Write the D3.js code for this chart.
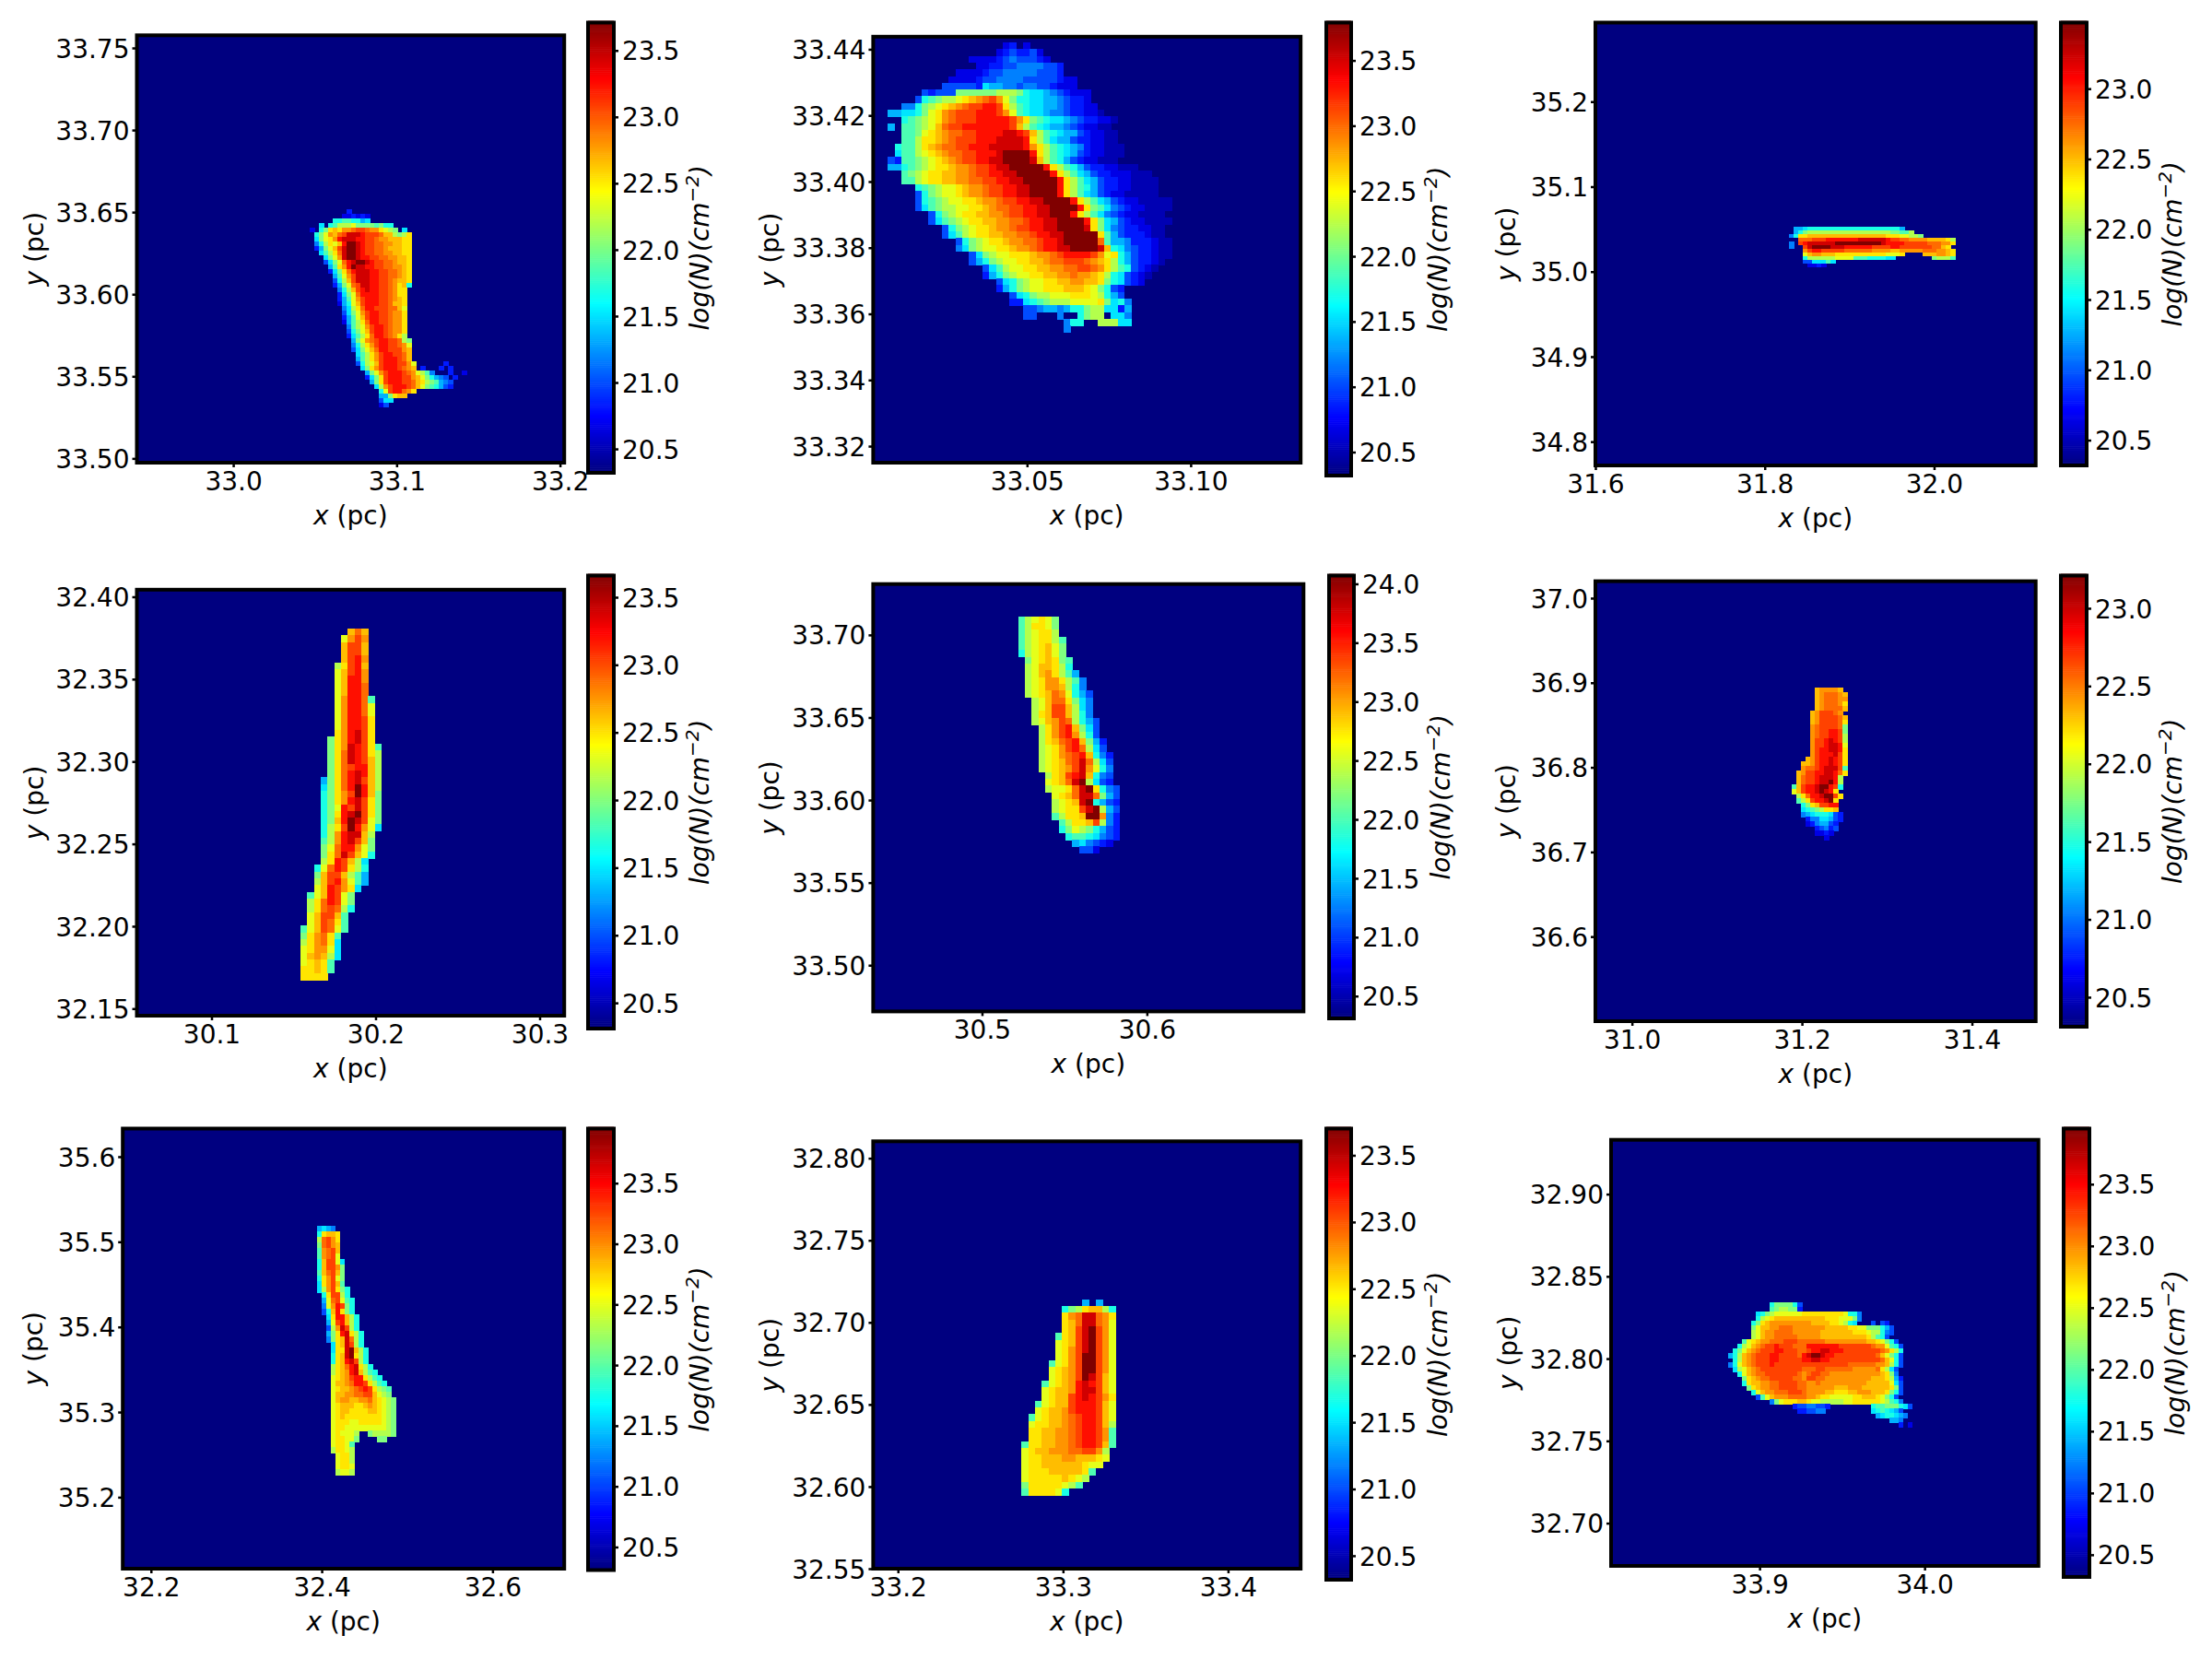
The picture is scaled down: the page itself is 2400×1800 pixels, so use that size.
<!doctype html>
<html>
<head>
<meta charset="UTF-8">
<title>column density maps</title>
<script src="https://d3js.org/d3.v7.min.js"></script>
<style>
    html, body { margin: 0; background: #fff; }
    text { font-family: "DejaVu Sans"; fill: #000; }
    .tick text { font-size: 28px; }
    .tick line { stroke: #000; stroke-width: 2.5px; }
    .domain { display: none; }
</style>
</head>
<body>
<svg id="fig" width="2400" height="1800"></svg>
<script>
// axis limits (one entry per panel, left to right, top to bottom)
var xLimits = [[32.941,33.2026],[33.003,33.1336],[31.6,32.12],[30.0545,30.315],[30.434,30.695],[30.957,31.475],[32.167,32.684],[33.185,33.444],[33.81,34.069]];
var yLimits = [[33.4974,33.7577],[33.315,33.4438],[34.772,35.293],[32.1457,32.4043],[33.472,33.7308],[36.50,37.02],[35.116,35.633],[32.55,32.8103],[32.674,32.933]];
var cLimits = [[20.32,23.71],[20.32,23.79],[20.32,23.47],[20.31,23.66],[20.31,24.07],[20.31,23.21],[20.31,23.95],[20.32,23.70],[20.32,23.95]];

var xTicks = [[33.0,33.1,33.2],[33.05,33.10],[31.6,31.8,32.0],[30.1,30.2,30.3],[30.5,30.6],[31.0,31.2,31.4],[32.2,32.4,32.6],[33.2,33.3,33.4],[33.9,34.0]];
var xDigits = [1,2,1,1,1,1,1,1,1];
var yTicks = [[33.50,33.55,33.60,33.65,33.70,33.75],[33.32,33.34,33.36,33.38,33.40,33.42,33.44],[34.8,34.9,35.0,35.1,35.2],[32.15,32.20,32.25,32.30,32.35,32.40],[33.50,33.55,33.60,33.65,33.70],[36.6,36.7,36.8,36.9,37.0],[35.2,35.3,35.4,35.5,35.6],[32.55,32.60,32.65,32.70,32.75,32.80],[32.70,32.75,32.80,32.85,32.90]];
var yDigits = [2,2,1,2,2,1,1,2,2];
var cTicks = [[20.5,21,21.5,22,22.5,23,23.5],[20.5,21,21.5,22,22.5,23,23.5],[20.5,21,21.5,22,22.5,23],[20.5,21,21.5,22,22.5,23,23.5],[20.5,21,21.5,22,22.5,23,23.5,24],[20.5,21,21.5,22,22.5,23],[20.5,21,21.5,22,22.5,23,23.5],[20.5,21,21.5,22,22.5,23,23.5],[20.5,21,21.5,22,22.5,23,23.5]];

// map cells: upper left corner (x, y) and cell size (dx, dy) in pc
var cellOrigin = [[33.047,33.652],[33.0075,33.4421],[31.829,35.053],[30.1542,32.3807],[30.522,33.7113],[31.188,36.894],[32.3945,35.5187],[33.2748,32.7140],[33.881,32.834]];
var cellSize = [[.00282,.00281],[.002064,.00204],[.00544,.00434],[.00412,.0041],[.0041,.0041],[.00542,.00545],[.0054,.0065],[.00409,.00411],[.00279,.0028]];

// letter -> fraction of the colour range, "." = empty
var letters = "abcdefghijklmnopqrst";
var letterLevels = [.05,.10,.15,.20,.25,.30,.35,.40,.45,.50,.55,.60,.65,.69,.73,.77,.81,.86,.92,1];

// each row: first column, then one letter per cell
var rows1 = [[8,"c"],[7,"bbcbcb"],[5,"hhiihhfg"],[2,"g.hikkkljjjjijhh"],[0,"b.hjmnmoopqqpoomlkj.g"],[1,"hjlonpqsssrqqqpnnkjkm"],
[1,"gjlmorsssrrqqpoonnnmm"],[1,"ehkmlnrttsrqqppoonnmm"],[1,"cfjlnqsttsrqqpponnnmm"],[2,"gikmpsttsrqqppoonnmm"],[3,"gjlosttsrrqqppoonnm"],[3,"dgjlprsttsrqqpponnm"],
[4,"fimortssrrqqppoonm"],[4,"cgjmprsssrrqqpponm"],[5,"filoqsssrrqqpponm"],[5,"dhknqsssrrqqponnm"],[5,"cfjlpqssrrqqpomnh"],[6,"ehknqrsrrqqpomm"],
[6,"cgjlprrrrqqpomm"],[6,"cfiloqrrrqqponm"],[6,"bfhlnqrrrqqpnnm"],[7,"egkmprrqqqppnl"],[7,"dgjloqrrqqpoom"],[7,"cfilnqrrqqpoom"],
[7,"bfikmprrqqpoom"],[8,"eikloqrrqpoom"],[8,"dhjlnqrrqpoom"],[8,"cgikmprrqpomk"],[9,"fjlopqrrqqpkj"],[9,"ehkmoqrrqqpol"],
[9,"dgjlnprrqqqon"],[10,"gikmoqrrqqpn"],[10,"fikmoqrrrqpn"],[10,"dhklnqrrrqqol......c"],[11,"gjmoqrrrqpon.c...c.c"],[12,"fjloqrrrqpolkie...c..b"],
[12,"cgjmqrrrqqonljhfed.c"],[13,"fjmqrrrqqpnmkjifed"],[14,"gkoqrrrqpnljihfdc"],[15,"hlqrrpom"],[15,"ffjmnn"],[15,"dgg"],[15,"bd"]];

var rows2 = [[17,"bc.b"],[16,"bcdccdb"],[12,"bbbbcdedddcb"],[13,"bbccddeeeeddc"],[10,"bbbbcddeeeeedddc"],[9,"bbbbcddeeeedddddcbb"],[8,"dddddcgffeedeeddcbbb"],
[5,"dcdddjjjjjjkkkjhggfedcbbb"],[4,"dhijkklmnopqoljhhggffedccb"],[2,"eehjklmnopqqrrqmkihggffedccbb"],[0,"ffgghjlmopqqqrrrqolihggfeedccbba"],[2,"hijklmopqqqrrrrrqomjihggfedccbba"],
[0,"f.iijklnpqqrrrrrrrqnkihgffedcbbaa"],[2,"iijlmnoppqqrrrrssrqnkihgffdcbbaa"],[2,"iikmmnopqqqrrrssssrmkigffdccbbaa"],[1,"hiikmnoppqqrrrsssssromkihgfecbbaaa"],[1,"giiklmnoppqqrrrsttttrmkihgfdcbbaaa"],
[0,"dciijklmnopqqrrssttttsnkihfdcbbaaa"],[0,"ffhijklmmnoopqqrsstttttrmkihfdccbbaaa"],[2,"ijklmmnnoopqqrrsstttttrmkigfdccbbbaaa"],[2,"iiklmmnnooppqqrrsstttttrmkigfdccbbaaaa"],[4,"hijkllmnoopqqrrssttttrmkihfdccbbaaaa"],
[4,"dhjkllmnoopqqrrssttttrmkigfdcbbaaaaa"],[4,"dhijkllmmnoopqqrrssttttrmkigfdcbbaaaaa"],[4,"dgijkkllmmnoppqqrrssttttrmjigedcbbaaaa"],[6,"dhjklmmnnoopqqrrsstttrmkigedcbbaaaa"],[6,"dgijklmmnnooppqrrssttttrmjgfdcbbaaaa"],
[8,"dhjklmmnoopqqrrssttttsmjgedccbbaa"],[8,"dgiklmmnnooppqrrsstttttmifdcccbaa"],[10,"dhjklmmnooppqrrstttttpiffecccbaa"],[10,"egjkllmmnoopqrrssttttsnhgedccbaa"],[12,"dgjkllmmmnoopqrrrrqolmhfdccbaa"],
[12,"dfhjkllmmnnoppqqqponmkhfdccba"],[14,"dgikllmmnnooppqqpomkihdcba"],[14,"cfhjkllmmnnoopoonmkhgdcba"],[16,"dghjkllmmnnoonnmjhgdcb"],[16,"cfhjkllmmmnnnmljhdc"],[18,"dghjkklllmmmlkhfd"],
[18,"ccghijkkkllllmjghe"],[20,"ddeffefhhjkkggcf"],[20,"dd...e..hjkk.gge"],[26,"ehh..kkkgg"],[26,"e"]];

var rows3 = [[1,"ffghhhhhhhhhhhhhhhhhhhhf"],[1,"fhjkkkkkkkkkkkkkkkkkkjjiik"],[0,"ehmmnnnnnnnnnnnnnnnnnmmmllkkj"],[2,"pppqqqrrrrrrrssssssrqqppoooonnnnmk"],[0,"e.qrssssssttttttttttsrrrrqqqqqpppoom"],
[0,"e..qsttttsssrrrrrrqqqqrrqqqqqqqppnm"],[3,"oqrrqqqqqppppppoooonnooooopppoonm"],[3,"lnoonnnmmmmmmmmmmmlllm....nnnoonm"],[3,"hkkkkkklllliiihhhhgg........jkkki"],[3,"ddgggig"],[4,"bbcb"]];

var rows4 = [[7,"npn"],[6,"loqo"],[6,"nqqn"],[6,"nqqn"],[6,"nqro"],[5,"kmqrn"],[5,"lnqro"],[5,"lnrro"],[5,"lnrrp"],[5,"lnrrp"],
[5,"lorrpi"],[5,"lorrpl"],[5,"lorrpl"],[5,"lorrqm"],[5,"lorrqm"],[5,"morsqm"],[4,"jmorsqm"],[4,"jmosrqmi"],[4,"jmpsrqmk"],[4,"jmpsrqnk"],
[4,"jmpqrrnk"],[4,"jmprsrnk"],[3,"fjmprsqnk"],[3,"gjmprtrnk"],[3,"hjmoqtrnj"],[3,"hjmorsqmj"],[3,"hjlrqsqmj"],[3,"hjmrstqmj"],[3,"hjnrtsqlj"],[3,"hkmqtrolg"],
[3,"hkorssnk"],[3,"ikorsqnj"],[3,"jlprrolj"],[3,"jmpsqnlh"],[3,"kmrqnkg"],[2,"hlprqmkh"],[2,"jnqqnkif"],[2,"knqrolif"],[2,"lnrqomg"],[1,"ilnrqlj"],
[1,"kmprqlj"],[1,"kmpqpkh"],[1,"lnqqni"],[1,"lnqpmi"],[0,"ilnqpli"],[0,"jmopmi"],[0,"kmopmg"],[0,"lmoolg"],[0,"lnonkg"],[0,"lmnmi"],[0,"mmnmi"],[0,"mmmm"]];

var rows5 = [[0,"iklmlj"],[0,"ikmmlj"],[0,"iklmmk"],[0,"iklmmki"],[0,"iklmnlj"],[0,"hklmnlj"],[1,"jlmnmji"],[1,"klnnmkh"],[1,"klnomkif"],[1,"klmoomkie"],
[1,"klmoonkhe"],[1,"klmnpolhfd"],[2,"klnppmjge"],[2,"klnqqnkge"],[2,"kmnqqnkhe"],[2,"klnoqpkhfd"],[3,"kmoqrnjgd"],[3,"kmoqrokhd"],[3,"kmnpqrnjfc"],[3,"klmoqrpkgd"],
[3,"klmopqrnhec"],[3,"klmnpqspkgd"],[3,"klmnoqsolhe"],[4,"kmnqrsnhed"],[4,"lmnpstkgdc"],[4,"kllmpstmhed"],[5,"lmnpsspjfd"],[5,"klmnsthfdc"],[5,"klmmqstkfd"],[5,"ikmmnttoec"],
[6,"ikmmnqkec"],[6,"hjlkjhfdc"],[7,"hiihgedc"],[8,"fgedcb"],[9,"ddb"]];

var rows6 = [[5,"noooon"],[5,"nopppon"],[5,"nopppoo"],[5,"nopppom"],[5,"noppppn"],[4,"noqqqpo"],[4,"noqqqqpn"],[4,"noqqqqpm"],[4,"opqqqqpj"],[4,"opqqrrqj"],
[4,"opqqrrqk"],[4,"oqqrsrqk"],[4,"oqqrssrl"],[4,"oqrrssrm"],[4,"oqrrrsqm"],[3,"noqrrsrqm"],[2,"nnoqrrsrqm"],[2,"oppqrsssqi"],[1,"noqqrrssrpm"],[1,"npqqrsssrk"],
[1,"npqqrsstrk"],[0,"inqrrsttrqh"],[0,"lnqrrstsrm"],[1,"kmprrsttqm"],[1,"ikmqrrstm"],[2,"hjmnqqrr"],[2,"ghijkmmn"],[2,"efghhhgdc"],[3,"ceeggfdc"],[3,"bceffdc"],[5,"cdecd"],[5,"bbcb"],[7,"b"]];

var rows7 = [[0,"fgfe"],[0,"hmnnm"],[0,"kpqom"],[0,"jpqon"],[0,"iopqn"],[0,"iopql"],[0,"hnqqlg"],[0,"hnqqoj"],[0,"inpqnj"],[0,"hmoqlj"],
[0,"gmoqni"],[0,"gkoqmjh"],[1,"hmqqkh"],[1,"flpqlih"],[1,"elorqjh"],[1,"dhnrmjh"],[2,"gmrrnkh"],[2,"flqrnkh"],[2,"dkosqkh"],[2,"fjmrsmkh"],
[2,"ejmnspkh"],[3,"gmnsqkh"],[3,"gmmstnkh"],[3,"hmnstmkh"],[3,"hmnrsqkh"],[3,"kmnprsmkh"],[3,"kmnorsnkih"],[3,"lmnoqrrmkih"],[3,"lnnoprrqmkih"],[3,"lmnnopqrqmkji"],
[3,"lnnooppqqnlkj"],[3,"lnoonnoopnmlkj"],[3,"lmnnnmmnonmlkj"],[3,"lmnnmmmmnnmlkj"],[3,"lmnmmmmmmmmlkj"],[3,"lmmmllmmmmmlkj"],[3,"lmmlllllllllkj"],[3,"lmlllk..jkkkkj"],[3,"lmmllj....jj"],[3,"lmmli"],
[3,"kmmlk"],[4,"lmmk"],[4,"lmmk"],[4,"lmml"],[4,"kllk"]];

var rows8 = [[9,"f.f"],[6,"hjkmnnkh"],[6,"mopsspom"],[6,"mnpsspol"],[6,"mnqstqol"],[5,"imnqstqol"],[5,"lmnqstqol"],[5,"lmoqstqol"],[5,"lmoqttqol"],[4,"ilmoqttqol"],
[4,"lmnoqttqol"],[4,"lmnoqtsqnl"],[3,"ilmnorsrqnl"],[3,"lmnnorssqnl"],[3,"lmnnqrsrqom"],[2,"ilmnnqrrrqnl"],[2,"lmnnoqrrrqnl"],[1,"ilmnnopqrrqnl"],[1,"lmmnnopqrrqnk"],[1,"mmnnoopqrrqoi"],
[1,"mmnnoopqrrqoi"],[0,"immnnoopqrrqni"],[0,"lmnnoooppqqok"],[0,"lmmnnnoonnnml"],[0,"lmmnnnnnnmll"],[0,"lmmmnnnnnmi"],[0,"lmmmmmnmlk"],[0,"jmmmmmlki"],[0,"immmmlh"]];

var rows9 = [[9,"hjjjjhd"],[9,"ijkkjjc"],[6,"ghjkllllllmmmmmmmmmlhhe"],[6,"hklmnnnnnnnnnnnmmmlllje"],[5,"hjmnooooooooonnnnmmlkhg...d.dc"],[5,"jlnnoopppooooooonnnnnmmlljjjhfd"],[5,"klnooppppoooooonnnnnnnmmmlkkhed"],[5,"klnoopppppooooonnnnnnnnnnmkihd"],
[3,"ilmnoopppqqqppppppooooooooonnmljhd"],[2,"hklnopqqrqqqppprrrrrrrqqqqqqqpoolihd"],[1,"hjlnopqqqrrqqqppqrrssrrrqqqqqqqqpomkh"],[0,"fhknopqqqrrqqqqprsttsrrqqqqqqqqqpnljhd"],[1,"hknopqqqrrqqqqqrrssrrqqqqqqqqqqqpnlhd"],[0,"ehlnopqqqrqqqqqqqqqqqqqqqqppppppoonkhd"],[1,"gklnopqqqqqqqqqpppqqppppppooooopmkgd"],[2,"hlnoppqqqqqqqpopqqppooooooooooonmje"],
[3,"jmnoppqqqqqppoqqppoooooooooonnnmkfc"],[3,"hmnnooppqqqqppoopoooooooooonnnnnlgd"],[4,"jmnooppqqqqppoooooonnnooonnnnnnmjd"],[5,"hlnoopppqqqpoooonnmmmnnooonnnmjhd"],[6,"dilnoooppppoonmmlllllmmnnnmljhd"],[9,"ejlmmmnnmllkkkkkllmmmmmmlkihe"],[14,"cddeeddc.........hiijjjhgd"],[15,"ccddee..........ghihgfd"],[32,"fghhgfe"],[35,"ffe"],[37,"c.b"]];

var panelRows = [rows1, rows2, rows3, rows4, rows5, rows6, rows7, rows8, rows9];

// layout in page pixels: plot [left, right, top, bottom], colour bar the same
var plotBox = [[148.5,612.2,38.3,502],[947.4,1411.2,39.8,502],[1731,2208.7,24.5,505],[148.5,612.2,639.8,1102],[947.4,1414.3,633.7,1097.4],[1731,2208.7,630.6,1108],[133.2,612.2,1224.5,1702],[947.4,1411.2,1238.3,1702],[1748,2211.7,1236.7,1699]];
var barBox = [[638,666,24.5,513],[1439,1466,24.5,516],[2236,2264,24.5,505],[638,666,624.5,1116],[1442,1469,624.5,1105],[2236,2264,624.5,1114],[638,666,1224.5,1703.5],[1439,1466,1224.5,1714],[2239,2267,1224.5,1711]];

// matplotlib jet
function jet(t){
    function ramp(c){ return Math.max(0, Math.min(1, 1.5 - Math.abs(4*t - c))); }
    return d3.rgb(255*ramp(3), 255*ramp(2), 255*ramp(1)).formatHex();
}

var svg = d3.select("#fig");
svg.append("rect").attr("width", 2400).attr("height", 1800).attr("fill", "#fff");

panelRows.forEach(function(rows, i){
    var box = plotBox[i], bar = barBox[i];
    var x = d3.scaleLinear().domain(xLimits[i]).range([box[0], box[1]]);
    var y = d3.scaleLinear().domain(yLimits[i]).range([box[3], box[2]]);
    var c = d3.scaleSequential(jet).domain(cLimits[i]);
    var g = svg.append("g");

    // background is the bottom of the colour range
    g.append("rect")
     .attr("x", box[0]).attr("y", box[2])
     .attr("width", box[1]-box[0]).attr("height", box[3]-box[2])
     .attr("fill", c(cLimits[i][0]));

    // unpack letters to cells
    var cells = [];
    rows.forEach(function(row, r){
        row[1].split("").forEach(function(ch, k){
            if(ch === ".") return;
            var level = letterLevels[letters.indexOf(ch)];
            cells.push({
                col: row[0] + k,
                row: r,
                value: cLimits[i][0] + level*(cLimits[i][1] - cLimits[i][0])
            });
        });
    });
    var ox = cellOrigin[i][0], oy = cellOrigin[i][1], dx = cellSize[i][0], dy = cellSize[i][1];
    g.selectAll("rect.cell").data(cells).enter().append("rect")
     .attr("class", "cell")
     .attr("x", function(d){ return x(ox + d.col*dx); })
     .attr("y", function(d){ return y(oy - d.row*dy); })
     .attr("width", x(ox + dx) - x(ox) + 0.5)
     .attr("height", y(oy - dy) - y(oy) + 0.5)
     .attr("fill", function(d){ return c(d.value); })
     .attr("shape-rendering", "crispEdges");

    // frame
    g.append("rect")
     .attr("x", box[0]).attr("y", box[2])
     .attr("width", box[1]-box[0]).attr("height", box[3]-box[2])
     .attr("fill", "none").attr("stroke", "#000").attr("stroke-width", 4);

    g.append("g").attr("transform", "translate(0," + box[3] + ")")
     .call(d3.axisBottom(x).tickValues(xTicks[i]).tickFormat(d3.format("." + xDigits[i] + "f")).tickSize(5).tickPadding(5));
    g.append("g").attr("transform", "translate(" + box[0] + ",0)")
     .call(d3.axisLeft(y).tickValues(yTicks[i]).tickFormat(d3.format("." + yDigits[i] + "f")).tickSize(5).tickPadding(3))
     .selectAll("text").attr("dy", ".36em");

    var xl = g.append("text").attr("x", (box[0]+box[1])/2).attr("y", box[3]+67)
              .attr("text-anchor", "middle").style("font-size", "28px");
    xl.append("tspan").style("font-style", "italic").text("x");
    xl.append("tspan").text(" (pc)");

    var yOff = yDigits[i] === 2 ? 102 : 87;
    var yl = g.append("text")
              .attr("transform", "translate(" + (box[0]-yOff) + "," + (box[2]+box[3])/2 + ") rotate(-90)")
              .attr("text-anchor", "middle").style("font-size", "28px");
    yl.append("tspan").style("font-style", "italic").text("y");
    yl.append("tspan").text(" (pc)");

    // colour bar
    var cy = d3.scaleLinear().domain(cLimits[i]).range([bar[3], bar[2]]);
    var steps = d3.range(0, 256).map(function(k){ return cLimits[i][0] + (k/255)*(cLimits[i][1]-cLimits[i][0]); });
    var stepH = (bar[3]-bar[2])/256;
    g.selectAll("rect.step").data(steps).enter().append("rect")
     .attr("class", "step")
     .attr("x", bar[0]).attr("width", bar[1]-bar[0])
     .attr("y", function(d){ return cy(d) - stepH; })
     .attr("height", stepH + 0.6)
     .attr("fill", function(d){ return c(d); });
    g.append("rect")
     .attr("x", bar[0]).attr("y", bar[2])
     .attr("width", bar[1]-bar[0]).attr("height", bar[3]-bar[2])
     .attr("fill", "none").attr("stroke", "#000").attr("stroke-width", 4);
    g.append("g").attr("transform", "translate(" + bar[1] + ",0)")
     .call(d3.axisRight(cy).tickValues(cTicks[i]).tickFormat(d3.format(".1f")).tickSize(5).tickPadding(4))
     .selectAll("text").attr("dy", ".36em");

    var cl = g.append("text")
              .attr("transform", "translate(" + (bar[0]+131) + "," + (bar[2]+bar[3])/2 + ") rotate(-90)")
              .attr("text-anchor", "middle").style("font-size", "28px").style("font-style", "italic");
    cl.append("tspan").text("log(N)(cm");
    cl.append("tspan").attr("dy", -11).style("font-size", "20px").text("\u22122");
    cl.append("tspan").attr("dy", 11).text(")");
});
</script>
</body>
</html>
